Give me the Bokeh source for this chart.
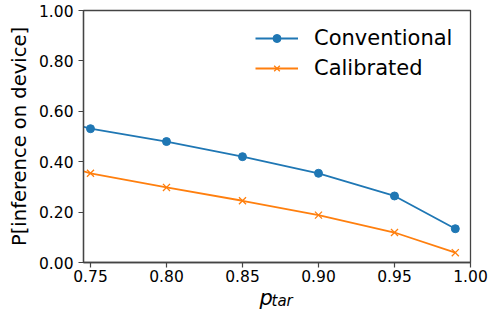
from bokeh.plotting import figure
from bokeh.layouts import column
from bokeh.models import Range1d, FixedTicker, Label, Legend, LegendItem, NumeralTickFormatter
from bokeh.embed import file_html
from bokeh.resources import INLINE

# data; first point lies left of the visible x range (clipped)
p_tar = [0.70, 0.75, 0.80, 0.85, 0.90, 0.95, 0.99]
conventional = [0.615, 0.531, 0.480, 0.420, 0.354, 0.264, 0.134]
calibrated = [0.440, 0.354, 0.298, 0.245, 0.188, 0.119, 0.039]
x_ticks = [0.75, 0.80, 0.85, 0.90, 0.95, 1.00]
y_ticks = [0.0, 0.2, 0.4, 0.6, 0.8, 1.0]

BLUE = "#1f77b4"
ORANGE = "#ff7f0e"
FONT = "DejaVu Sans"
SPINE = "#444444"

p = figure(width=497, height=284, output_backend="svg", toolbar_location=None,
           x_range=Range1d(0.7454, 1.0), y_range=Range1d(0.0, 1.0),
           min_border_left=83, min_border_right=27, min_border_top=10, min_border_bottom=22)
p.xgrid.visible = False
p.ygrid.visible = False
p.outline_line_color = SPINE
p.outline_line_width = 1.3

l1 = p.line(p_tar, conventional, line_color=BLUE, line_width=1.8)
s1 = p.scatter(p_tar, conventional, marker="circle", size=8, fill_color=BLUE, line_color=BLUE)
l2 = p.line(p_tar, calibrated, line_color=ORANGE, line_width=1.8)
s2 = p.scatter(p_tar, calibrated, marker="x", size=10, line_color=ORANGE, line_width=1.3)

for ax, ticks in ((p.xaxis[0], x_ticks), (p.yaxis[0], y_ticks)):
    ax.ticker = FixedTicker(ticks=ticks)
    ax.formatter = NumeralTickFormatter(format="0.00")
    ax.minor_tick_line_color = None
    ax.major_tick_out = 5
    ax.major_tick_in = 0
    ax.major_tick_line_color = SPINE
    ax.major_tick_line_width = 1.2
    ax.axis_line_color = SPINE
    ax.axis_line_width = 1.3
    ax.major_label_text_font = FONT
    ax.major_label_text_font_size = "15.5px"
    ax.major_label_text_color = "black"

p.xaxis.major_label_standoff = 2
p.yaxis.major_label_standoff = 5
p.yaxis.axis_label = "P[inference on device]"
p.yaxis.axis_label_text_font = FONT
p.yaxis.axis_label_text_font_size = "19.5px"
p.yaxis.axis_label_text_font_style = "normal"
p.yaxis.axis_label_text_color = "black"
p.yaxis.axis_label_standoff = 5

legend = Legend(items=[LegendItem(label="Conventional", renderers=[l1, s1]),
                       LegendItem(label="Calibrated", renderers=[l2, s2])],
                location=(172, 182), padding=0, margin=0, spacing=6,
                glyph_width=43, glyph_height=20, label_height=20, label_standoff=16,
                label_text_font=FONT, label_text_font_size="21px", label_text_color="black",
                border_line_alpha=0, background_fill_alpha=0)
p.add_layout(legend)

# x-axis label p_tar (italic p with subscript "tar") in a transparent strip that
# slightly overlaps the bottom border of the main plot; frame aligned at x=83
q = figure(width=497, height=35, output_backend="svg", toolbar_location=None,
           x_range=Range1d(0, 1), y_range=Range1d(0, 1),
           min_border_left=83, min_border_right=27, min_border_top=0, min_border_bottom=0,
           styles={"margin-top": "-10px"})
q.axis.visible = False
q.xgrid.visible = False
q.ygrid.visible = False
q.outline_line_color = None
q.background_fill_alpha = 0
q.border_fill_alpha = 0
q.add_layout(Label(x=176, y=11.5, x_units="screen", y_units="screen", text="p",
                   text_font=FONT, text_font_style="italic", text_font_size="21px",
                   text_color="black", text_baseline="alphabetic"))
q.add_layout(Label(x=188, y=8.5, x_units="screen", y_units="screen", text="tar",
                   text_font=FONT, text_font_style="italic", text_font_size="15px",
                   text_color="black", text_baseline="alphabetic"))

open("out.html", "w").write(file_html(column(p, q), INLINE))
